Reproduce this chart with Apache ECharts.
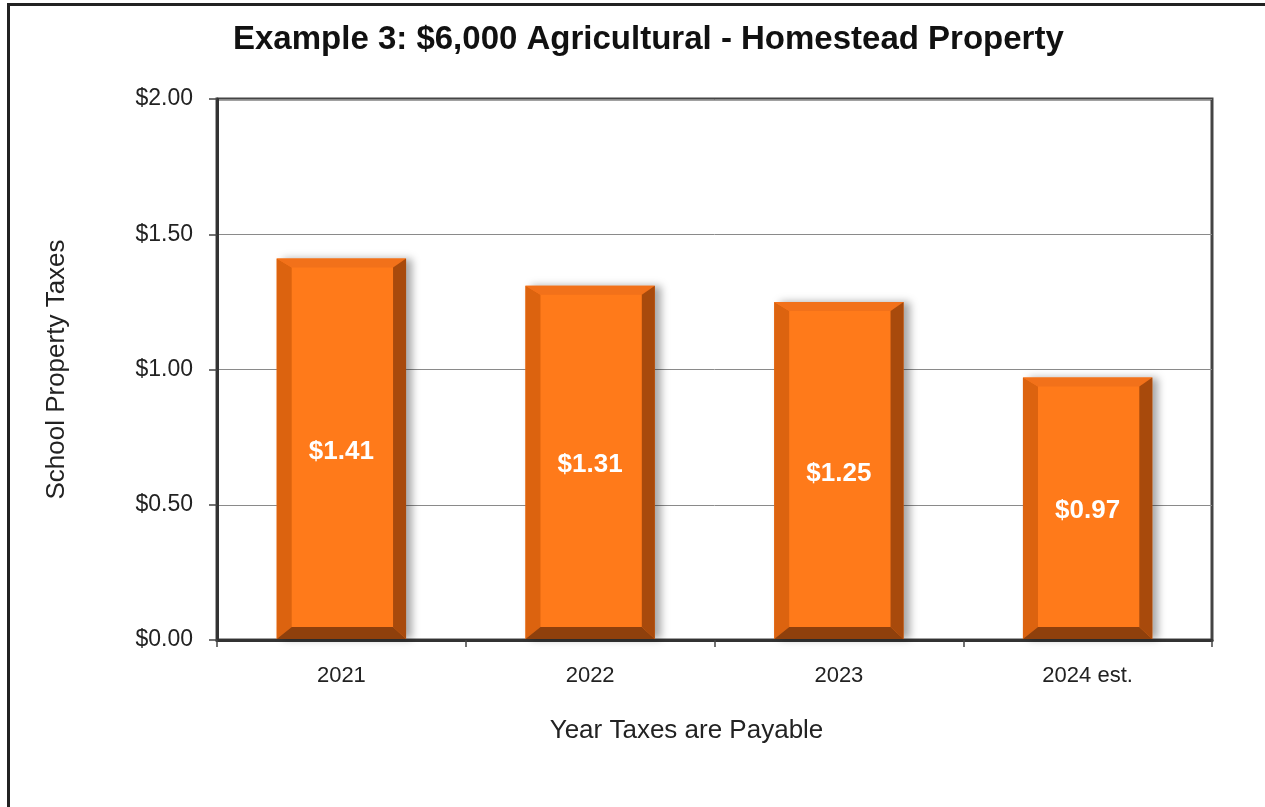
<!DOCTYPE html>
<html>
<head>
<meta charset="utf-8">
<script src="https://cdn.jsdelivr.net/npm/echarts@6/dist/echarts.min.js"></script>
<style>
html,body{margin:0;padding:0;background:#fff;}
#main{width:1265px;height:807px;}
</style>
</head>
<body>
<div id="main"></div>
<script>
var categories = ['2021', '2022', '2023', '2024 est.'];
var taxValues = [1.41, 1.31, 1.25, 0.97];
var yTicks = [0, 0.5, 1.0, 1.5, 2.0];

var FONT = '"Liberation Sans", Arial, sans-serif';
var chart = echarts.init(document.getElementById('main'));

var seriesData = categories.map(function (c, i) { return [i, taxValues[i]]; });

function renderBevel(params, api) {
  var i = api.value(0), v = api.value(1);
  var top = api.coord([i, v]);
  var base = api.coord([i, 0]);
  var w = api.size([1, 0])[0] * 0.52;
  var x0 = top[0] - w / 2, x1 = top[0] + w / 2, y0 = top[1], y1 = base[1] - 1;
  var bl = 15, br = 13, bt = 9, bb = 12;
  return {
    type: 'group',
    children: [
      { type: 'rect', shape: { x: x0, y: y0, width: w, height: y1 - y0 },
        style: { fill: '#FF7A1A', shadowBlur: 8, shadowColor: 'rgba(0,0,0,0.35)', shadowOffsetX: 6, shadowOffsetY: 0 } },
      { type: 'polygon', shape: { points: [[x0, y0], [x0 + bl, y0 + bt], [x0 + bl, y1 - bb], [x0, y1]] }, style: { fill: '#DC630F' } },
      { type: 'polygon', shape: { points: [[x0, y0], [x1, y0], [x1 - br, y0 + bt], [x0 + bl, y0 + bt]] }, style: { fill: '#F2711A' } },
      { type: 'polygon', shape: { points: [[x1, y0], [x1, y1], [x1 - br, y1 - bb], [x1 - br, y0 + bt]] }, style: { fill: '#A84A0C' } },
      { type: 'polygon', shape: { points: [[x0, y1], [x0 + bl, y1 - bb], [x1 - br, y1 - bb], [x1, y1]] }, style: { fill: '#8F400C' } },
      { type: 'text', x: (x0 + x1) / 2, y: (y0 + y1) / 2 + 3,
        style: { text: '$' + v.toFixed(2), fill: '#ffffff', font: 'bold 26px ' + FONT, align: 'center', verticalAlign: 'middle' } }
    ]
  };
}

chart.setOption({
  animation: false,
  backgroundColor: '#ffffff',
  title: {
    text: 'Example 3: $6,000 Agricultural - Homestead Property',
    left: 228, top: 18,
    textStyle: { fontFamily: FONT, fontWeight: 'bold', fontSize: 33, color: '#111' }
  },
  graphic: [
    { type: 'rect', shape: { x: 8.5, y: 4.5, width: 1300, height: 900 },
      style: { fill: 'none', stroke: '#222', lineWidth: 3 }, z: 100 }
  ],
  grid: { left: 217, right: 53, top: 99, bottom: 167, show: true, borderColor: '#444', borderWidth: 3, backgroundColor: 'transparent' },
  xAxis: {
    type: 'category',
    data: categories,
    name: 'Year Taxes are Payable',
    nameLocation: 'middle',
    nameGap: 78,
    nameTextStyle: { fontFamily: FONT, fontSize: 26, color: '#222', padding: [0, 56, 0, 0] },
    axisLine: { show: true, lineStyle: { color: '#333', width: 3 } },
    axisTick: { show: true, alignWithLabel: false, length: 7, lineStyle: { color: '#444', width: 1.5 } },
    axisLabel: { fontFamily: FONT, fontSize: 22, color: '#222', margin: 25 }
  },
  yAxis: {
    type: 'value',
    min: 0, max: 2, interval: 0.5,
    name: 'School Property Taxes',
    nameLocation: 'middle',
    nameGap: 147,
    nameTextStyle: { fontFamily: FONT, fontSize: 26, color: '#222' },
    axisLine: { show: true, lineStyle: { color: '#333', width: 3 } },
    axisTick: { show: true, length: 8, lineStyle: { color: '#444', width: 1.5 } },
    axisLabel: { fontFamily: FONT, fontSize: 23, color: '#222', margin: 24,
      formatter: function (v) { return '$' + v.toFixed(2); } },
    splitLine: { show: true, lineStyle: { color: '#8a8a8a', width: 1 } }
  },
  series: [{
    type: 'custom',
    renderItem: renderBevel,
    encode: { x: 0, y: 1 },
    data: seriesData,
    clip: false
  }]
});
</script>
</body>
</html>
